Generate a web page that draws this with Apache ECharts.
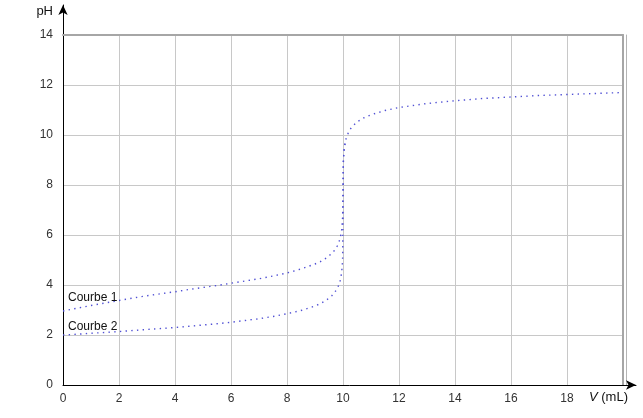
<!DOCTYPE html>
<html>
<head>
<meta charset="utf-8">
<script src="https://cdn.jsdelivr.net/npm/echarts@6/dist/echarts.min.js"></script>
<style>
html,body{margin:0;padding:0;background:#fff;}
#chart{width:643px;height:418px;}
</style>
</head>
<body>
<div id="chart"></div>
<script>
// Courbe 1 (acide faible)
const volume1 = [0,0.5,1,1.5,2,2.5,3,3.5,4,4.5,5,5.5,6,6.5,7,7.5,8,8.5,9,9.2,9.4,9.6,9.7,9.8,9.85,9.9,9.95,9.98,9.99,10,10.01,10.02,10.05,10.1,10.2,10.3,10.5,10.75,11,11.5,12,13,14,15,16,17,18,19,20];
const pH1 = [2.96,3.07,3.18,3.28,3.38,3.48,3.57,3.65,3.73,3.82,3.90,3.98,4.07,4.16,4.25,4.36,4.48,4.64,4.84,4.94,5.08,5.26,5.39,5.57,5.70,5.87,6.18,6.58,6.87,7.85,8.83,9.13,9.52,9.82,10.12,10.30,10.52,10.69,10.81,10.98,11.10,11.26,11.37,11.46,11.52,11.58,11.62,11.66,11.70];
// Courbe 2 (acide fort)
const volume2 = [0,0.5,1,1.5,2,2.5,3,3.5,4,4.5,5,5.5,6,6.5,7,7.5,8,8.5,9,9.2,9.4,9.6,9.7,9.8,9.85,9.9,9.95,9.98,9.99,10,10.01,10.02,10.05,10.1];
const pH2 = [2.00,2.03,2.07,2.10,2.14,2.18,2.22,2.26,2.30,2.35,2.40,2.45,2.51,2.58,2.65,2.74,2.85,2.98,3.16,3.26,3.39,3.57,3.70,3.87,4.00,4.18,4.48,4.88,5.18,7.00,8.82,9.13,9.52,9.82];
const xTicks = [0,2,4,6,8,10,12,14,16,18];
const yTicks = [0,2,4,6,8,10,12,14];
const curveNames = ['Courbe 1','Courbe 2'];
const labelAt = [[0,3.48],[0,2.32]];

const chart = echarts.init(document.getElementById('chart'), null, {renderer:'canvas'});
const font = 'Liberation Sans, Arial, sans-serif';
const dotStyle = {color:'#5050d4', width:1.4, type:[1.4,4.3], cap:'butt'};

function toData(v, p){ return v.map((x,i)=>[x,p[i]]); }

const option = {
  animation:false,
  backgroundColor:'#fff',
  grid:[
    {left:63, right:20, top:35, bottom:33},
    {left:63, right:7, top:5, bottom:33}
  ],
  xAxis:[
    {gridIndex:0, type:'value', min:0, max:20, interval:2,
     axisLine:{show:false}, axisTick:{show:false},
     axisLabel:{margin:8, color:'#333', fontSize:12, fontFamily:font,
       formatter:v=> xTicks.indexOf(v)>=0 ? String(v) : ''},
     splitLine:{show:true, lineStyle:{color:'#c8c8c8', width:1}}},
    {gridIndex:1, type:'value', min:0, max:1,
     axisLine:{show:true, onZero:false, lineStyle:{color:'#000', width:1}, symbol:['none','arrow'], symbolSize:[7,10]},
     axisTick:{show:false}, axisLabel:{show:false}, splitLine:{show:false}},
    {gridIndex:0, type:'value', min:0, max:20, position:'top',
     axisLine:{show:true, onZero:false, lineStyle:{color:'#a6a6a6', width:2}},
     axisTick:{show:false}, axisLabel:{show:false}, splitLine:{show:false}}
  ],
  yAxis:[
    {gridIndex:0, type:'value', min:0, max:14, interval:2,
     axisLine:{show:false}, axisTick:{show:false},
     axisLabel:{margin:10, color:'#333', fontSize:12, fontFamily:font,
       formatter:v=> yTicks.indexOf(v)>=0 ? String(v) : ''},
     splitLine:{show:true, lineStyle:{color:'#c8c8c8', width:1}}},
    {gridIndex:1, type:'value', min:0, max:1,
     axisLine:{show:true, onZero:false, lineStyle:{color:'#000', width:1}, symbol:['none','arrow'], symbolSize:[7,10]},
     axisTick:{show:false}, axisLabel:{show:false}, splitLine:{show:false}},
    {gridIndex:0, type:'value', min:0, max:14, position:'right',
     axisLine:{show:true, onZero:false, lineStyle:{color:'#a6a6a6', width:2}},
     axisTick:{show:false}, axisLabel:{show:false}, splitLine:{show:false}},
    {gridIndex:0, type:'value', min:0, max:14, position:'right', offset:3,
     axisLine:{show:true, onZero:false, lineStyle:{color:'#b4b4b4', width:1}},
     axisTick:{show:false}, axisLabel:{show:false}, splitLine:{show:false}}
  ],
  series:[
    {name:curveNames[0], type:'line', xAxisIndex:0, yAxisIndex:0, data:toData(volume1,pH1),
     showSymbol:false, symbol:'none', lineStyle:dotStyle, silent:true,
     markPoint:{symbol:'circle', symbolSize:0, silent:true,
       data:[{coord:labelAt[0], value:0}],
       label:{show:true, position:'right', distance:5, formatter:curveNames[0], color:'#111', fontSize:12, fontFamily:font}}},
    {name:curveNames[1], type:'line', xAxisIndex:0, yAxisIndex:0, data:toData(volume2,pH2),
     showSymbol:false, symbol:'none', lineStyle:dotStyle, silent:true,
     markPoint:{symbol:'circle', symbolSize:0, silent:true,
       data:[{coord:labelAt[1], value:0}],
       label:{show:true, position:'right', distance:5, formatter:curveNames[1], color:'#111', fontSize:12, fontFamily:font}}}
  ],
  graphic:[
    {type:'text', right:590, top:5, style:{text:'pH', fill:'#111', font:'13px '+font, textAlign:'right'}},
    {type:'text', left:589, top:391, style:{
      text:'{v|V} (mL)', fill:'#111', font:'13px '+font,
      rich:{v:{fontStyle:'italic', fontSize:13, fontFamily:font, fill:'#111'}}}}
  ]
};
chart.setOption(option);
</script>
</body>
</html>
